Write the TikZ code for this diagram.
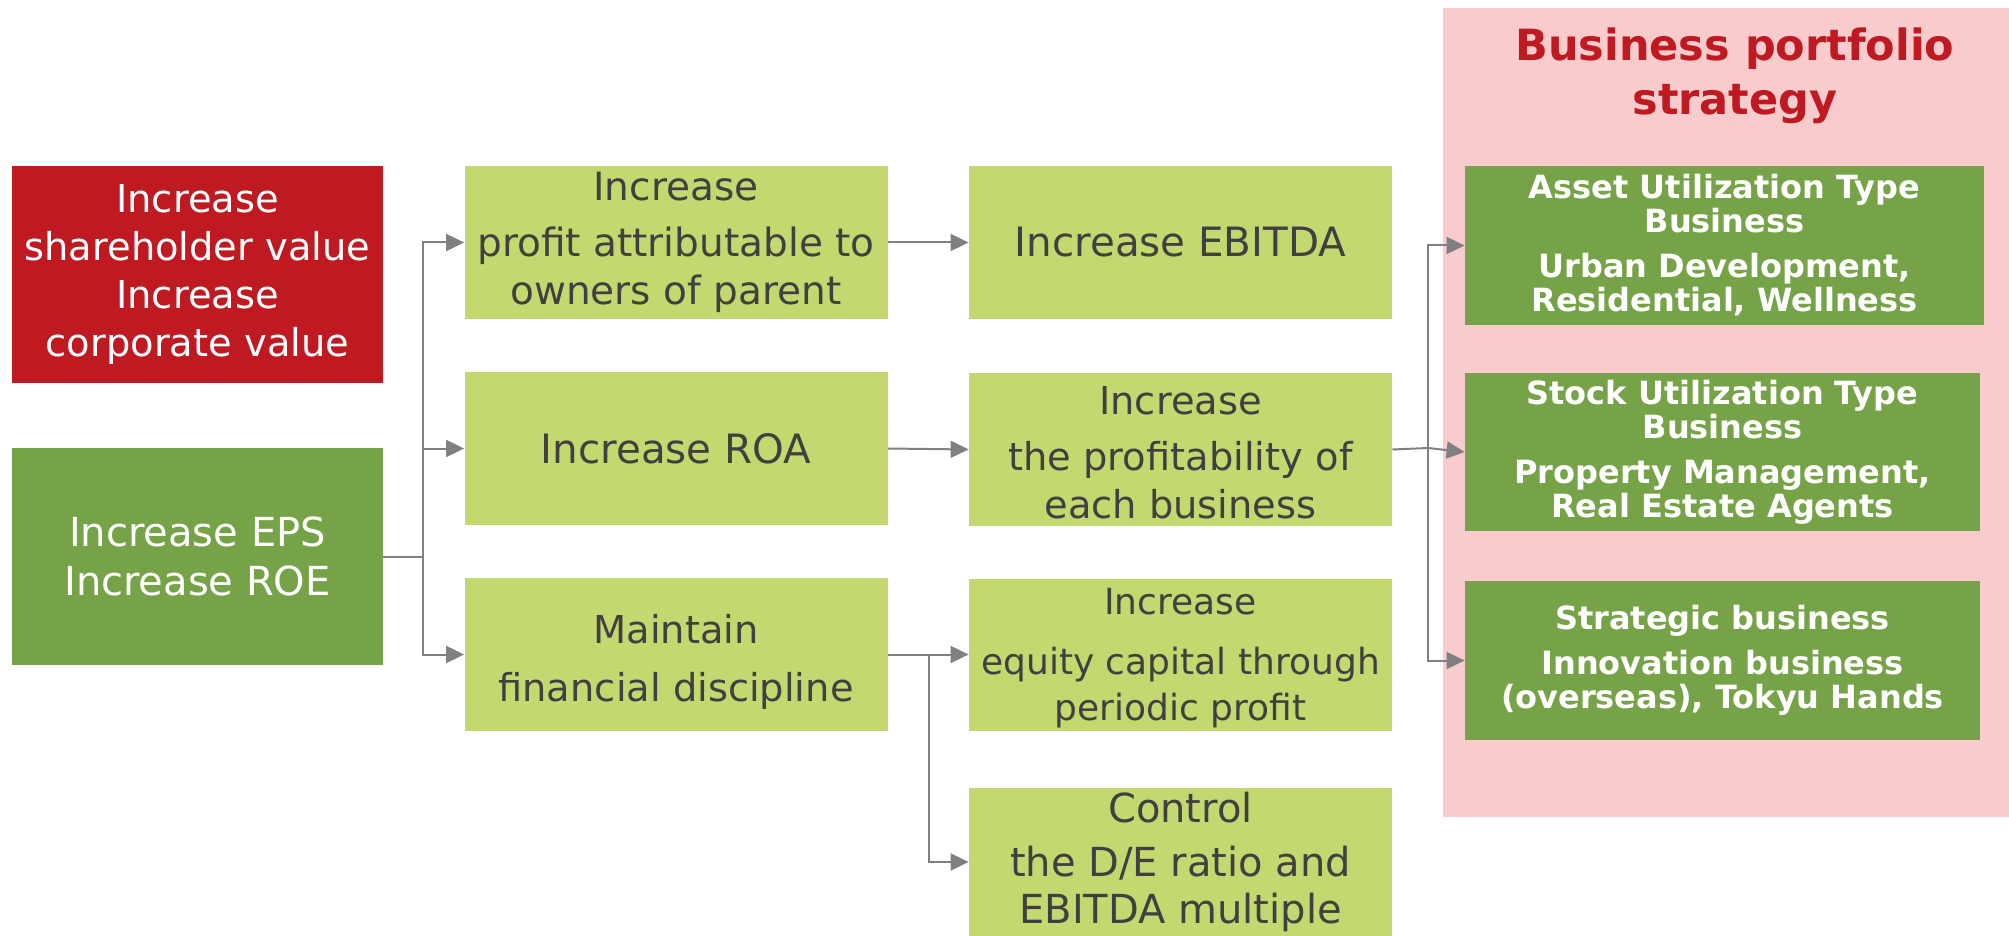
\documentclass[tikz,border=0pt]{standalone}
\usepackage{fontspec}
\setmainfont{DejaVu Sans}
\usetikzlibrary{arrows.meta}
\definecolor{cred}{RGB}{191,25,33}
\definecolor{cgreen}{RGB}{118,163,72}
\definecolor{clight}{RGB}{196,216,112}
\definecolor{cpink}{RGB}{248,203,204}
\definecolor{ctext}{RGB}{64,64,64}
\definecolor{cline}{RGB}{128,128,128}
\begin{document}
\begin{tikzpicture}[x=0.5pt,y=-0.5pt,
  box/.style={rectangle, inner sep=0pt, align=center},
  redbox/.style={box, fill=cred, text=white, minimum width=185.5pt, minimum height=108.5pt, font=\fontsize{19.2}{24}\selectfont},
  epsbox/.style={box, fill=cgreen, text=white, minimum width=185.5pt, minimum height=108.5pt, font=\fontsize{20}{24.5}\selectfont},
  lbox/.style={box, fill=clight, text=ctext, minimum width=211.5pt, minimum height=76.5pt, font=\fontsize{19.2}{24}\selectfont},
  lboxs/.style={lbox, font=\fontsize{18}{23}\selectfont},
  lboxb/.style={lbox, font=\fontsize{20.2}{24}\selectfont},
  rbox/.style={box, fill=cgreen, text=white, minimum height=79.5pt, font=\bfseries\fontsize{16}{17}\selectfont},
  pinkbox/.style={box, fill=cpink},
  titletext/.style={box, text=cred, font=\bfseries\fontsize{21.5}{27}\selectfont},
  conn/.style={draw=cline, line width=1pt, -{Triangle[length=9pt,width=8.5pt]}},
  plain/.style={draw=cline, line width=1pt},
]
\useasboundingbox (0,0) rectangle (2009,936);

% pink background panel
\node[pinkbox, minimum width=283pt, minimum height=404.5pt] (pink) at (1726,412.5) {};
\node[titletext] (title) at (1735,76) {Business portfolio\\strategy};

% left column
\node[redbox] (red) at (197.5,274.5) {Increase\\shareholder value\\Increase\\corporate value};
\node[epsbox] (eps) at (197.5,556.5) {Increase EPS\\Increase ROE};

% second column
\node[lbox, font=\fontsize{19.5}{24}\selectfont] (c2a) at (676,242.5) {Increase\\[4pt]profit attributable to\\owners of parent};
\node[lboxb] (c2b) at (676,448.5) {Increase ROA};
\node[lbox] (c2c) at (676,654.5) {\rule{0pt}{22.3pt}Maintain\\[5pt]financial discipline};

% third column
\node[lboxb] (c3a) at (1180.5,242.5) {Increase EBITDA};
\node[lbox] (c3b) at (1180.5,449.5) {\rule{0pt}{17pt}Increase\\[4pt]the profitability of\\each business};
\node[lboxs, minimum height=76pt] (c3c) at (1180.5,654.5) {\rule{0pt}{17pt}Increase\\[7pt]equity capital through\\periodic profit};
\node[lbox, font=\fontsize{20}{23.7}\selectfont, minimum height=74pt] (c3d) at (1180.5,862) {Control\\[3.3pt]the D/E ratio and\\EBITDA multiple};

% right column
\node[rbox, minimum width=259.5pt] (r1) at (1724.5,245.5) {Asset Utilization Type\\Business\\[5.5pt]Urban Development,\\Residential, Wellness};
\node[rbox, minimum width=257.5pt, minimum height=79pt] (r2) at (1722.5,452) {Stock Utilization Type\\Business\\[5.5pt]Property Management,\\Real Estate Agents};
\node[rbox, minimum width=257.5pt] (r3) at (1722.5,660.5) {Strategic business\\[5.3pt]Innovation business\\(overseas), Tokyu Hands};

% connectors
\coordinate (t1) at (423,556.5);
\draw[plain] (eps.east) -- (t1);
\draw[conn] (t1) |- (c2a.west);
\draw[conn] (t1) |- (c2b.west);
\draw[conn] (t1) |- (c2c.west);

\draw[conn] (c2a.east) -- (c3a.west);
\draw[conn] (c2b.east) -- (c3b.west);
\draw[conn] (c2c.east) -- (c3c.west);
\coordinate (t2) at (929,654.5);
\draw[conn] (t2) |- (c3d.west);

\coordinate (t3) at (1428,448);
\draw[plain] (c3b.east) -- (t3);
\draw[conn] (t3) |- (r1.west);
\draw[conn] (t3) -- (r2.west);
\draw[conn] (t3) |- (r3.west);
\end{tikzpicture}
\end{document}
